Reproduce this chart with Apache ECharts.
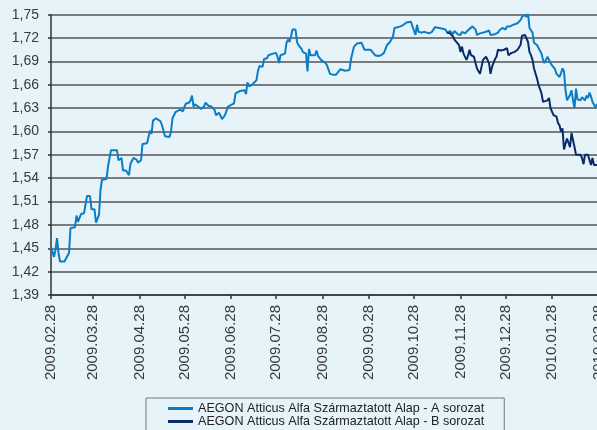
<!DOCTYPE html>
<html>
<head>
<meta charset="utf-8">
<script src="https://cdn.jsdelivr.net/npm/echarts@6/dist/echarts.min.js"></script>
<style>
html,body{margin:0;padding:0;overflow:hidden;background:#e6f4fa;width:597px;height:430px;}
#c{width:620px;height:430px;}
</style>
</head>
<body>
<div id="c"></div>
<script>
const seriesNames = [
  'AEGON Atticus Alfa Származtatott Alap - A sorozat',
  'AEGON Atticus Alfa Származtatott Alap - B sorozat'
];
const yTicks = { min: 1.39, max: 1.75, step: 0.03 };
const axisStart = '2009.02.28';
const axisEnd = '2010.03.08';

const datesA = ['2009.02.28','2009.03.02','2009.03.03','2009.03.04','2009.03.05','2009.03.06','2009.03.09','2009.03.10','2009.03.12','2009.03.13','2009.03.16','2009.03.17','2009.03.18','2009.03.20','2009.03.22','2009.03.24','2009.03.26','2009.03.27','2009.03.29','2009.03.30','2009.04.01','2009.04.02','2009.04.03','2009.04.06','2009.04.07','2009.04.08','2009.04.09','2009.04.10','2009.04.13','2009.04.14','2009.04.16','2009.04.17','2009.04.19','2009.04.21','2009.04.22','2009.04.24','2009.04.26','2009.04.27','2009.04.29','2009.04.30','2009.05.03','2009.05.04','2009.05.05','2009.05.06','2009.05.07','2009.05.09','2009.05.12','2009.05.13','2009.05.15','2009.05.18','2009.05.19','2009.05.20','2009.05.22','2009.05.25','2009.05.27','2009.05.28','2009.05.29','2009.05.31','2009.06.01','2009.06.02','2009.06.03','2009.06.04','2009.06.06','2009.06.08','2009.06.10','2009.06.11','2009.06.13','2009.06.15','2009.06.17','2009.06.18','2009.06.19','2009.06.20','2009.06.21','2009.06.22','2009.06.24','2009.06.26','2009.06.27','2009.06.30','2009.07.01','2009.07.04','2009.07.05','2009.07.07','2009.07.08','2009.07.09','2009.07.10','2009.07.12','2009.07.13','2009.07.15','2009.07.16','2009.07.17','2009.07.19','2009.07.20','2009.07.22','2009.07.23','2009.07.26','2009.07.28','2009.07.29','2009.07.30','2009.07.31','2009.08.03','2009.08.04','2009.08.05','2009.08.06','2009.08.07','2009.08.08','2009.08.10','2009.08.11','2009.08.12','2009.08.13','2009.08.14','2009.08.15','2009.08.17','2009.08.18','2009.08.19','2009.08.20','2009.08.23','2009.08.24','2009.08.25','2009.08.27','2009.08.30','2009.08.31','2009.09.02','2009.09.04','2009.09.06','2009.09.09','2009.09.10','2009.09.12','2009.09.15','2009.09.16','2009.09.18','2009.09.20','2009.09.23','2009.09.24','2009.09.25','2009.09.29','2009.10.02','2009.10.04','2009.10.06','2009.10.08','2009.10.10','2009.10.12','2009.10.14','2009.10.15','2009.10.19','2009.10.21','2009.10.23','2009.10.26','2009.10.27','2009.10.29','2009.10.30','2009.10.31','2009.11.02','2009.11.04','2009.11.07','2009.11.09','2009.11.11','2009.11.14','2009.11.18','2009.11.19','2009.11.21','2009.11.23','2009.11.24','2009.11.26','2009.11.28','2009.11.29','2009.12.01','2009.12.03','2009.12.06','2009.12.08','2009.12.09','2009.12.11','2009.12.13','2009.12.15','2009.12.17','2009.12.18','2009.12.19','2009.12.21','2009.12.23','2009.12.24','2009.12.26','2009.12.28','2009.12.29','2009.12.31','2010.01.02','2010.01.03','2010.01.05','2010.01.07','2010.01.08','2010.01.10','2010.01.11','2010.01.12','2010.01.13','2010.01.14','2010.01.15','2010.01.16','2010.01.17','2010.01.18','2010.01.19','2010.01.21','2010.01.22','2010.01.23','2010.01.24','2010.01.25','2010.01.27','2010.01.28','2010.01.30','2010.01.31','2010.02.02','2010.02.03','2010.02.04','2010.02.05','2010.02.06','2010.02.07','2010.02.08','2010.02.09','2010.02.10','2010.02.11','2010.02.12','2010.02.13','2010.02.14','2010.02.15','2010.02.16','2010.02.17','2010.02.19','2010.02.20','2010.02.21','2010.02.22','2010.02.23','2010.02.24','2010.02.26','2010.02.27','2010.02.28'];
const valuesA = [1.452,1.439,1.448,1.463,1.444,1.433,1.433,1.437,1.444,1.476,1.477,1.492,1.484,1.494,1.495,1.517,1.517,1.500,1.500,1.483,1.493,1.525,1.538,1.539,1.555,1.556,1.576,1.577,1.576,1.563,1.566,1.550,1.550,1.544,1.559,1.566,1.564,1.560,1.563,1.584,1.585,1.593,1.601,1.597,1.614,1.617,1.613,1.608,1.594,1.593,1.600,1.617,1.625,1.628,1.626,1.632,1.636,1.637,1.640,1.646,1.632,1.635,1.632,1.629,1.632,1.637,1.633,1.632,1.628,1.621,1.620,1.624,1.625,1.616,1.621,1.632,1.634,1.636,1.649,1.652,1.651,1.653,1.648,1.663,1.658,1.660,1.661,1.666,1.678,1.684,1.683,1.693,1.694,1.698,1.700,1.701,1.696,1.688,1.698,1.700,1.714,1.718,1.715,1.722,1.731,1.731,1.715,1.711,1.712,1.706,1.702,1.700,1.677,1.706,1.698,1.698,1.704,1.697,1.692,1.688,1.685,1.674,1.673,1.673,1.680,1.682,1.678,1.679,1.693,1.709,1.713,1.714,1.713,1.705,1.705,1.698,1.697,1.698,1.701,1.711,1.715,1.722,1.733,1.735,1.737,1.740,1.741,1.735,1.724,1.737,1.728,1.727,1.728,1.726,1.728,1.734,1.733,1.731,1.727,1.729,1.725,1.729,1.725,1.724,1.728,1.726,1.730,1.735,1.731,1.724,1.726,1.727,1.728,1.730,1.724,1.723,1.725,1.727,1.730,1.733,1.731,1.735,1.735,1.737,1.735,1.739,1.743,1.747,1.750,1.747,1.752,1.733,1.730,1.727,1.714,1.714,1.711,1.713,1.700,1.692,1.688,1.688,1.696,1.688,1.685,1.680,1.674,1.670,1.675,1.681,1.677,1.653,1.640,1.640,1.647,1.653,1.640,1.630,1.655,1.641,1.640,1.640,1.644,1.640,1.646,1.643,1.650,1.645,1.638,1.631,1.635,1.633];

const datesB = ['2009.11.19','2009.11.21','2009.11.23','2009.11.24','2009.11.25','2009.11.27','2009.11.28','2009.11.29','2009.11.30','2009.12.02','2009.12.03','2009.12.04','2009.12.05','2009.12.07','2009.12.08','2009.12.09','2009.12.11','2009.12.12','2009.12.13','2009.12.14','2009.12.15','2009.12.17','2009.12.18','2009.12.19','2009.12.20','2009.12.21','2009.12.22','2009.12.23','2009.12.25','2009.12.27','2009.12.28','2009.12.29','2009.12.30','2010.01.01','2010.01.03','2010.01.05','2010.01.07','2010.01.08','2010.01.09','2010.01.10','2010.01.12','2010.01.13','2010.01.14','2010.01.15','2010.01.16','2010.01.17','2010.01.18','2010.01.19','2010.01.21','2010.01.22','2010.01.23','2010.01.25','2010.01.26','2010.01.27','2010.01.28','2010.01.29','2010.01.31','2010.02.01','2010.02.02','2010.02.03','2010.02.04','2010.02.05','2010.02.06','2010.02.07','2010.02.08','2010.02.09','2010.02.10','2010.02.11','2010.02.12','2010.02.13','2010.02.16','2010.02.17','2010.02.18','2010.02.19','2010.02.21','2010.02.22','2010.02.23','2010.02.24','2010.02.25','2010.02.26','2010.02.28'];
const valuesB = [1.727,1.726,1.722,1.718,1.718,1.711,1.702,1.709,1.700,1.692,1.697,1.705,1.698,1.696,1.688,1.681,1.674,1.683,1.692,1.690,1.696,1.688,1.674,1.683,1.688,1.693,1.696,1.705,1.704,1.705,1.704,1.707,1.698,1.701,1.702,1.705,1.711,1.723,1.725,1.724,1.715,1.702,1.698,1.692,1.681,1.679,1.668,1.660,1.649,1.638,1.636,1.640,1.643,1.630,1.628,1.621,1.619,1.611,1.608,1.600,1.604,1.577,1.577,1.591,1.589,1.580,1.598,1.598,1.580,1.570,1.570,1.566,1.558,1.570,1.570,1.571,1.557,1.566,1.557,1.557,1.557];

function fmt(d){
  const m = d.getUTCMonth()+1, day = d.getUTCDate();
  return d.getUTCFullYear()+'.'+(m<10?'0':'')+m+'.'+(day<10?'0':'')+day;
}
function parse(s){ const p = s.split('.').map(Number); return Date.UTC(p[0], p[1]-1, p[2]); }
const categories = [];
for (let t = parse(axisStart); t <= parse(axisEnd); t += 86400000) categories.push(fmt(new Date(t)));
const idx = {}; categories.forEach((c,i)=>{ idx[c]=i; });
const dataA = datesA.map((d,i)=>[idx[d], valuesA[i]]);
const dataB = datesB.map((d,i)=>[idx[d], valuesB[i]]);
const isTick = (i, v) => /\.28$/.test(v);

const chart = echarts.init(document.getElementById('c'), null, {renderer:'canvas'});
chart.setOption({
  animation: false,
  backgroundColor: '#e6f4fa',
  textStyle: { fontFamily: 'Liberation Sans, Arial, sans-serif' },
  grid: { left: 51, top: 14.7, width: (categories.length-1)*1.5, height: 280.3, containLabel: false },
  xAxis: {
    type: 'category', data: categories, boundaryGap: false,
    axisLine: { lineStyle: { color: '#333', width: 1.5 } },
    axisTick: { interval: isTick, length: 4, lineStyle: { color: '#333', width: 1.5 } },
    axisLabel: { interval: isTick, rotate: 90, fontSize: 15, color: '#3a3a3a', margin: 10, fontFamily: 'Liberation Sans, Arial, sans-serif' },
    splitLine: { show: false }
  },
  yAxis: {
    type: 'value', min: yTicks.min, max: yTicks.max, interval: yTicks.step,
    axisLine: { show: true, lineStyle: { color: '#333', width: 1.5 } },
    axisTick: { show: true, length: 3, lineStyle: { color: '#333', width: 1.5 } },
    axisLabel: { fontSize: 14, color: '#3a3a3a', margin: 12,
      formatter: v => v.toFixed(2).replace('.', ',') },
    splitLine: { lineStyle: { color: '#555', width: 1.5 } }
  },
  legend: {
    orient: 'vertical', left: 146, top: 398, height: 80,
    padding: [4, 20, 12, 22],
    borderColor: '#777', borderWidth: 1,
    itemWidth: 25, itemHeight: 3, itemGap: 0, icon: 'rect',
    textStyle: { fontSize: 12.6, lineHeight: 13, color: '#222', fontFamily: 'Liberation Sans, Arial, sans-serif' },
    data: seriesNames
  },
  series: [
    { name: seriesNames[0], type: 'line', data: dataA, showSymbol: false, symbol: 'none',
      lineStyle: { color: '#0b7dc6', width: 2 }, itemStyle: { color: '#0b7dc6' } },
    { name: seriesNames[1], type: 'line', data: dataB, showSymbol: false, symbol: 'none',
      lineStyle: { color: '#0a2b68', width: 2 }, itemStyle: { color: '#0a2b68' } }
  ]
});
</script>
</body>
</html>
